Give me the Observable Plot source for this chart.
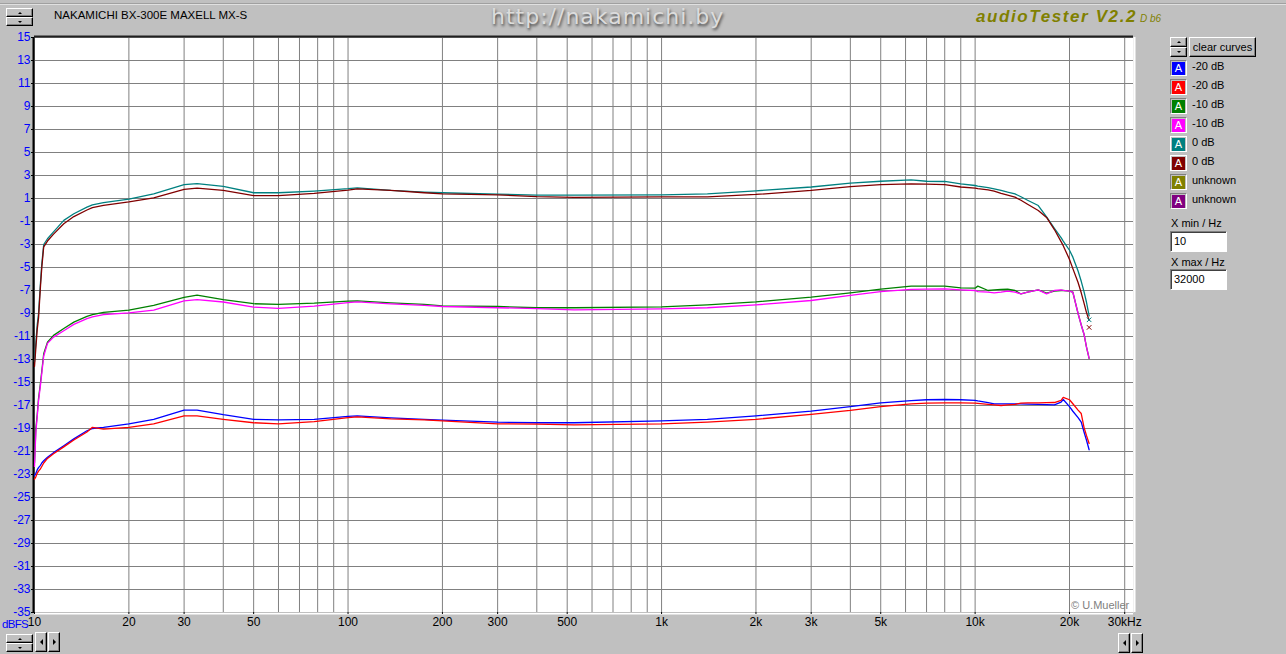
<!DOCTYPE html>
<html>
<head>
<meta charset="utf-8">
<script src="https://cdn.jsdelivr.net/npm/d3@7"></script>
<script src="https://cdn.jsdelivr.net/npm/@observablehq/plot@0.6"></script>
<style>
  html, body { margin:0; padding:0; }
  body { width:1286px; height:654px; background:#c0c0c0; position:relative; overflow:hidden;
         font-family:"Liberation Sans", Arial, sans-serif; }
  #chart { position:absolute; left:0; top:0; }
  .t { position:absolute; white-space:nowrap; font-size:11px; line-height:11px; color:#000; }
  .raised { position:absolute; background:#c0c0c0; border:1px solid; border-color:#fff #000 #000 #fff;
            box-shadow: inset -1px -1px 0 #808080; box-sizing:border-box; display:flex; align-items:center; justify-content:center; }
  .sunken { position:absolute; background:#fff; border:1px solid; border-color:#808080 #fff #fff #808080;
            box-shadow: inset 1px 1px 0 #404040; box-sizing:border-box; }
  .up { width:0; height:0; border-left:2px solid transparent; border-right:2px solid transparent; border-bottom:2px solid #000; }
  .dn { width:0; height:0; border-left:2px solid transparent; border-right:2px solid transparent; border-top:2px solid #000; }
  .lf { width:0; height:0; border-top:3px solid transparent; border-bottom:3px solid transparent; border-right:3px solid #000; }
  .rt { width:0; height:0; border-top:3px solid transparent; border-bottom:3px solid transparent; border-left:3px solid #000; }
  .sw { position:absolute; width:17px; height:16px; box-sizing:border-box; border:1px solid; border-color:#808080 #fff #fff #808080;
        display:flex; align-items:center; justify-content:center; color:#fff; font-size:11px; line-height:11px; }
</style>
</head>
<body>
<div id="chart"></div>
<script>
// ---------------- data ----------------
const freqs = [10, 10.1, 10.2, 10.3, 10.45, 10.55, 10.7, 11, 11.5, 12.4,
  13.35, 14.7, 15.3, 16.6, 20, 24, 30, 33, 40, 50,
  60, 78, 100, 107, 137, 175, 200, 300, 400, 526,
  1000, 1400, 2000, 3000, 4000, 5000, 6250, 7000, 8000, 9000,
  10000, 10200, 11000, 11500, 12100, 12700, 13400, 14000, 14700, 15900,
  16900, 17900, 18800, 19100, 20000, 20500, 21300, 21800, 22250, 22650,
  23100];

const blue20 = [-23.1, -22.9, -22.6, -22.4, -22.2, -22.0, -21.8, -21.5, -21.1, -20.5,
  -19.9, -19.2, -19.0, -18.9, -18.6, -18.2, -17.4, -17.4, -17.8, -18.2,
  -18.25, -18.2, -17.95, -17.9, -18.07, -18.2, -18.27, -18.45, -18.5, -18.5,
  -18.33, -18.2, -17.9, -17.49, -17.09, -16.77, -16.57, -16.5, -16.48, -16.5,
  -16.55, -16.6, -16.75, -16.86, -16.86, -16.86, -16.86, -16.86, -16.88, -16.9,
  -16.92, -16.94, -16.7, -16.48, -17.1, -17.5, -18.05, -18.45, -19.3, -20.0,
  -20.85];

const red20 = [-23.4, -23.2, -22.9, -22.7, -22.5, -22.3, -22.0, -21.6, -21.2, -20.6,
  -20.0, -19.3, -18.9, -19.05, -18.9, -18.6, -17.9, -17.9, -18.2, -18.5,
  -18.6, -18.4, -18.05, -17.99, -18.16, -18.25, -18.33, -18.6, -18.62, -18.68,
  -18.6, -18.45, -18.2, -17.78, -17.43, -17.09, -16.86, -16.8, -16.77, -16.78,
  -16.8, -16.82, -16.9, -16.95, -17.0, -16.95, -16.9, -16.8, -16.77, -16.77,
  -16.75, -16.74, -16.55, -16.3, -16.5, -16.85, -17.4, -17.7, -18.9, -19.6,
  -20.3];

const green10 = [-22.0, -19.0, -17.8, -16.4, -15.0, -14.0, -12.5, -11.5, -10.9, -10.3,
  -9.75, -9.25, -9.1, -8.9, -8.7, -8.3, -7.6, -7.4, -7.8, -8.15,
  -8.2, -8.1, -7.93, -7.9, -8.07, -8.2, -8.33, -8.39, -8.5, -8.5,
  -8.42, -8.25, -7.99, -7.58, -7.2, -6.88, -6.62, -6.62, -6.62, -6.77,
  -6.8, -6.62, -7.0, -6.95, -6.9, -6.88, -7.0, -7.3, -7.15, -6.94,
  -7.23, -7.05, -7.0, -7.0, -7.05, -7.15, -9.0, -10.0, -10.8, -11.9,
  -12.9];

const magenta10 = [-22.3, -19.3, -18.0, -16.6, -15.2, -14.2, -12.7, -11.6, -11.05, -10.5,
  -9.95, -9.45, -9.3, -9.1, -8.95, -8.7, -7.9, -7.8, -8.0, -8.45,
  -8.55, -8.35, -8.05, -7.99, -8.16, -8.3, -8.39, -8.5, -8.57, -8.68,
  -8.6, -8.5, -8.25, -7.87, -7.43, -7.09, -6.91, -6.88, -6.86, -6.94,
  -7.0, -7.09, -7.15, -7.2, -7.15, -7.06, -7.15, -7.29, -7.15, -6.94,
  -7.29, -7.0, -6.94, -6.98, -7.05, -7.15, -9.0, -10.0, -10.8, -11.9,
  -12.9];

const teal0 = [-13.2, -11.5, -10.0, -9.0, -6.3, -4.7, -3.0, -2.5, -1.9, -0.9,
  -0.33, 0.25, 0.45, 0.65, 0.95, 1.4, 2.2, 2.3, 2.05, 1.5,
  1.5, 1.65, 1.85, 1.93, 1.7, 1.55, 1.5, 1.38, 1.3, 1.3,
  1.32, 1.4, 1.67, 2.0, 2.33, 2.5, 2.62, 2.5, 2.48, 2.28,
  2.13, 2.08, 1.95, 1.84, 1.7, 1.55, 1.4, 1.15, 0.85, 0.39,
  -0.6, -1.6, -2.4, -2.7, -3.5, -4.1, -5.3, -6.2, -7.1, -8.0,
  -9.2];

const darkred0 = [-13.6, -12.0, -10.4, -9.4, -6.6, -5.0, -3.2, -2.7, -2.1, -1.2,
  -0.57, 0.0, 0.2, 0.4, 0.7, 1.05, 1.8, 1.9, 1.7, 1.25,
  1.25, 1.45, 1.72, 1.84, 1.7, 1.5, 1.4, 1.32, 1.17, 1.1,
  1.14, 1.14, 1.35, 1.7, 2.04, 2.2, 2.28, 2.25, 2.2, 2.0,
  1.9, 1.85, 1.75, 1.64, 1.45, 1.3, 1.12, 0.85, 0.5, -0.04,
  -0.65, -1.7, -2.75, -3.1, -4.3, -5.1, -6.3, -7.2, -8.1, -8.9,
  -9.6];

const seriesNames  = ["-20 dB", "-20 dB", "-10 dB", "-10 dB", "0 dB", "0 dB", "unknown", "unknown"];
const seriesColors = ["#0000ff", "#ff0000", "#008000", "#ff00ff", "#008080", "#800000", "#808000", "#800080"];
const seriesValues = [blue20, red20, green10, magenta10, teal0, darkred0];

const yTicks = [15, 13, 11, 9, 7, 5, 3, 1, -1, -3, -5, -7, -9, -11, -13, -15, -17, -19, -21, -23, -25, -27, -29, -31, -33, -35];
const xTicks = [10, 20, 30, 50, 100, 200, 300, 500, 1000, 2000, 3000, 5000, 10000, 20000, 30000];
const xTickLabels = ["10", "20", "30", "50", "100", "200", "300", "500", "1k", "2k", "3k", "5k", "10k", "20k", "30kHz"];
const xGrid = [10, 20, 30, 40, 50, 60, 70, 80, 90, 100, 200, 300, 400, 500, 600, 700, 800, 900,
  1000, 2000, 3000, 4000, 5000, 6000, 7000, 8000, 9000, 10000, 20000, 30000];
const xDomain = [10, 32000];
const yDomain = [-35, 15];

const titleText = "NAKAMICHI BX-300E MAXELL MX-S";
const siteText = "http://nakamichi.by";
const appText = "audioTester V2.2";
const appSub = "D b6";
const xMinText = "10";
const xMaxText = "32000";

// ---------------- chart ----------------
const labelMap = new Map(xTicks.map((d, i) => [d, xTickLabels[i]]));
const tables = seriesValues.map((vals, s) => freqs.map((f, i) => ({f, v: vals[i], s})));

const font = "'Liberation Sans', Arial, sans-serif";
const chart = Plot.plot({
  width: 1286, height: 654,
  marginLeft: 34, marginRight: 153, marginTop: 37, marginBottom: 42,
  style: {background: "transparent", fontFamily: font, fontSize: "12px", color: "#000"},
  x: {type: "log", domain: xDomain},
  y: {domain: yDomain},
  marks: [
    Plot.frame({fill: "#ffffff"}),
    Plot.ruleX(xGrid, {stroke: "#808080", strokeOpacity: 1, strokeWidth: 1}),
    Plot.ruleY(yTicks, {stroke: "#808080", strokeOpacity: 1, strokeWidth: 1}),
    Plot.ruleY([yDomain[1]], {stroke: "#202020", strokeWidth: 2, dy: -1}),
    Plot.ruleX([xDomain[0]], {stroke: "#000000", strokeWidth: 2, dx: -1}),
    Plot.ruleX([xDomain[1]], {stroke: "#ffffff", strokeWidth: 2, dx: 1}),
    Plot.ruleY([yDomain[0]], {stroke: "#ffffff", strokeWidth: 2, dy: 1}),
    Plot.axisY(yTicks, {tickSize: 3, tickPadding: 1, tickFormat: d => String(d), fill: "#0000ff", fontSize: 12, label: null, stroke: "#000"}),
    Plot.axisX(xTicks, {tickSize: 2, tickFormat: () => "", label: null, stroke: "#000"}),
    Plot.text(xTicks, {x: d => d, text: d => labelMap.get(d), frameAnchor: "bottom", dy: 13, fill: "#000", fontSize: 12}),
    ...tables.map((t, s) => Plot.line(t, {x: "f", y: "v", stroke: seriesColors[s], strokeWidth: 1.3})),
    ...tables.slice(4).map((t, k) => Plot.dot([t[t.length - 1]], {x: "f", y: "v", symbol: "times", r: 2.2, stroke: seriesColors[4 + k], strokeWidth: 1, dy: 4 + 3 * k}))
  ]
});
document.getElementById("chart").appendChild(chart);

// ---------------- window chrome (HTML) ----------------
const body = document.body;
function el(cls, css, html) {
  const d = document.createElement("div");
  d.className = cls;
  d.style.cssText = css;
  if (html !== undefined) d.innerHTML = html;
  body.appendChild(d);
  return d;
}
// top separator line
el("", "position:absolute;left:0;top:3px;width:1286px;height:1px;background:#a0a0a0;");
el("", "position:absolute;left:0;top:4px;width:1286px;height:1px;background:#e0e0e0;");
// spinners
function spinner(x, y, w, h) {
  el("raised", `left:${x}px;top:${y}px;width:${w}px;height:${h}px;`, '<div class="up"></div>');
  el("raised", `left:${x}px;top:${y + h}px;width:${w}px;height:${h}px;`, '<div class="dn"></div>');
}
spinner(6, 8, 27, 9);
spinner(6, 634, 27, 9);
spinner(1170, 37, 17, 10);
// scroll arrows
el("raised", "left:35px;top:632px;width:12px;height:20px;", '<div class="lf"></div>');
el("raised", "left:48px;top:632px;width:12px;height:20px;", '<div class="rt"></div>');
el("raised", "left:1118px;top:633px;width:12px;height:20px;", '<div class="lf"></div>');
el("raised", "left:1131px;top:633px;width:12px;height:20px;", '<div class="rt"></div>');

// title texts
el("t", "left:54px;top:10px;font-size:11.5px;line-height:11.5px;", titleText);
el("t", `left:491px;top:6px;font-family:'DejaVu Sans',sans-serif;font-size:22px;line-height:22px;color:#dcdcdc;text-shadow:1px 2px 3px #404040;letter-spacing:1px;`, siteText);
el("t", `left:976px;top:8px;font-size:17px;line-height:17px;font-weight:bold;font-style:italic;color:#808000;letter-spacing:1.6px;`, appText);
el("t", `left:1140px;top:14px;font-size:10px;line-height:10px;font-style:italic;color:#808000;`, appSub);

// clear curves button
el("raised", "left:1189px;top:37px;width:67px;height:20px;font-size:11px;", "clear curves");

// legend
seriesNames.forEach((name, i) => {
  const top = 60 + 19 * i;
  const sw = el("sw", `left:1170px;top:${top}px;`, "");
  const inner = document.createElement("div");
  inner.style.cssText = `width:13px;height:13px;background:${seriesColors[i]};color:#fff;font-size:11px;line-height:13px;text-align:center;`;
  inner.textContent = "A";
  sw.appendChild(inner);
  if (i === 4 || i === 5) sw.style.borderColor = "#ffffff";
  el("t", `left:1192px;top:${top + 1}px;`, name);
});

// x min / x max
el("t", "left:1171px;top:218px;", "X min / Hz");
el("sunken", "left:1170px;top:231px;width:57px;height:21px;");
el("t", "left:1174px;top:236px;", xMinText);
el("t", "left:1171px;top:257px;", "X max / Hz");
el("sunken", "left:1170px;top:269px;width:57px;height:21px;");
el("t", "left:1174px;top:274px;", xMaxText);

// axis unit + copyright
el("t", "left:2px;top:618px;color:#0000ff;font-size:11.5px;line-height:12px;letter-spacing:-0.7px;", "dBFS");
el("t", "left:1071px;top:600px;color:#808080;", "© U.Mueller");
</script>
</body>
</html>
